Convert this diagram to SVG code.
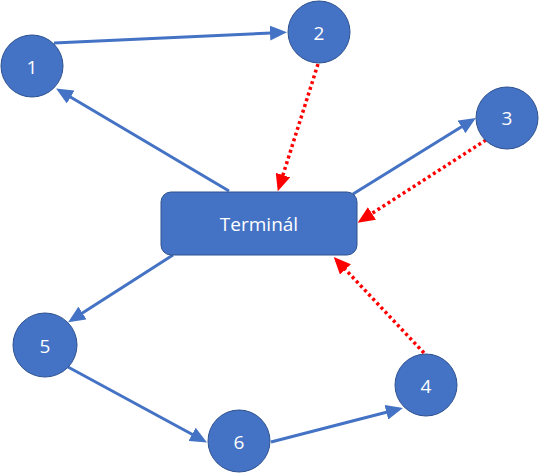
<svg xmlns="http://www.w3.org/2000/svg" width="540" height="474" viewBox="0 0 540 474">
<style>
.node{fill:#4472C4;stroke:#2F528F;stroke-width:1}
.lbl{fill:#fff;font-family:"Open Sans","Noto Sans",sans-serif;font-size:19px;text-anchor:middle;dominant-baseline:central}
.blue{stroke:#4472C4;stroke-width:3;fill:none;marker-end:url(#ab)}
.red{stroke:#FF0000;stroke-width:3.5;fill:none;stroke-dasharray:3 3;marker-end:url(#ar)}
</style>
<defs>
<marker id="ab" markerUnits="userSpaceOnUse" markerWidth="17" markerHeight="15" refX="13" refY="7.5" orient="auto"><path d="M0,0 L17,7.5 L0,15 z" fill="#4472C4"/></marker>
<marker id="ar" markerUnits="userSpaceOnUse" markerWidth="17" markerHeight="15" refX="13" refY="7.5" orient="auto"><path d="M0,0 L17,7.5 L0,15 z" fill="#FF0000"/></marker>
</defs>
<rect width="540" height="474" fill="#fff"/>
<g id="connectors">
<line class="blue" x1="54" y1="43" x2="283" y2="32.5"/>
<line class="blue" x1="229" y1="191" x2="59.5" y2="90.5"/>
<line class="red" x1="318" y1="64" x2="279" y2="187.5"/>
<line class="blue" x1="353" y1="194" x2="472.5" y2="120"/>
<line class="red" x1="486" y1="140" x2="361" y2="220.5"/>
<line class="red" x1="424" y1="353" x2="336.5" y2="260"/>
<line class="blue" x1="173" y1="255" x2="71.5" y2="320"/>
<line class="blue" x1="68" y1="367" x2="203.5" y2="440.5"/>
<line class="blue" x1="271" y1="442" x2="399" y2="409"/>
</g>
<g id="n1"><circle class="node" cx="32" cy="66" r="31"/><text class="lbl" x="32" y="67">1</text></g>
<g id="n2"><circle class="node" cx="319" cy="32" r="31"/><text class="lbl" x="319" y="33">2</text></g>
<g id="n3"><circle class="node" cx="507" cy="118" r="31"/><text class="lbl" x="507" y="118">3</text></g>
<g id="terminal"><rect class="node" x="161" y="192" width="196" height="63" rx="10"/><text class="lbl" x="259" y="224">Terminál</text></g>
<g id="n5"><circle class="node" cx="45" cy="345" r="32"/><text class="lbl" x="45" y="346">5</text></g>
<g id="n4"><circle class="node" cx="426" cy="385" r="31"/><text class="lbl" x="426" y="386">4</text></g>
<g id="n6"><circle class="node" cx="239" cy="441" r="31"/><text class="lbl" x="239" y="442">6</text></g>
</svg>
